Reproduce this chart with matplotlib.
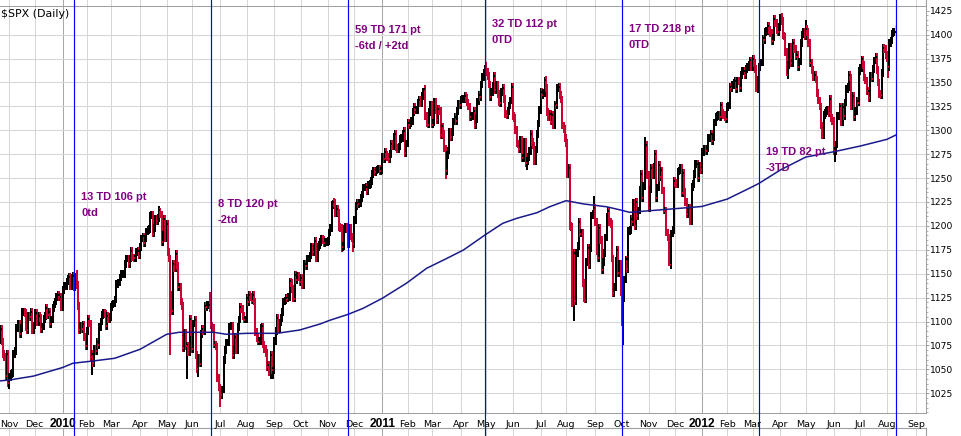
import matplotlib
matplotlib.use("Agg")
import matplotlib.pyplot as plt
import matplotlib.transforms as mtransforms
import numpy as np
import pandas as pd

# NYSE closed days inside the window
holidays = ["2009-11-26", "2009-12-25", "2010-01-01", "2010-01-18", "2010-02-15",
            "2010-04-02", "2010-05-31", "2010-07-05", "2010-09-06", "2010-11-25",
            "2010-12-24", "2011-01-17", "2011-02-21", "2011-04-22", "2011-05-30",
            "2011-07-04", "2011-09-05", "2011-11-24", "2011-12-26", "2012-01-02",
            "2012-01-16", "2012-02-20", "2012-04-06", "2012-05-28", "2012-07-04",
            "2012-09-03"]

# daily closes, one row per month (Oct 21 2009 .. Aug 10 2012)
closes_2009 = [
    1081, 1092, 1079, 1066, 1063, 1043, 1066, 1036,
    1042, 1045, 1046, 1066, 1069, 1093, 1093, 1098, 1087, 1093, 1110, 1110, 1109, 1094, 1091, 1106, 1105, 1110, 1091, 1096,
    1109, 1109, 1099, 1106, 1104, 1092, 1095, 1103, 1106, 1114, 1107, 1110, 1097, 1102, 1114, 1118, 1121, 1126, 1128, 1126, 1126, 1115,
]
closes_2010 = [
    1133, 1137, 1137, 1142, 1145, 1147, 1137, 1146, 1148, 1136, 1150, 1138, 1116, 1091, 1096, 1092, 1097, 1084, 1074,
    1090, 1103, 1098, 1063, 1066, 1057, 1071, 1069, 1079, 1075, 1094, 1100, 1107, 1109, 1108, 1095, 1106, 1103, 1105,
    1115, 1118, 1119, 1123, 1139, 1139, 1141, 1146, 1150, 1150, 1150, 1160, 1166, 1166, 1160, 1166, 1174, 1167, 1166, 1166, 1173, 1174, 1169,
    1178, 1187, 1189, 1182, 1187, 1194, 1196, 1197, 1211, 1212, 1192, 1198, 1207, 1205, 1208, 1217, 1212, 1183, 1191, 1207, 1187,
    1202, 1173, 1166, 1128, 1111, 1160, 1156, 1171, 1158, 1136, 1136, 1121, 1116, 1072, 1088, 1074, 1075, 1068, 1103, 1089,
    1071, 1098, 1102, 1065, 1050, 1062, 1056, 1087, 1092, 1090, 1116, 1115, 1117, 1117, 1114, 1096, 1093, 1076, 1076, 1074, 1041, 1031,
    1027, 1023, 1029, 1060, 1070, 1078, 1078, 1095, 1095, 1096, 1065, 1071, 1084, 1070, 1094, 1102, 1115, 1113, 1106, 1102, 1102,
    1125, 1120, 1128, 1126, 1122, 1128, 1121, 1089, 1083, 1079, 1080, 1093, 1095, 1076, 1071, 1067, 1052, 1055, 1047, 1065, 1049, 1049,
    1080, 1090, 1104, 1092, 1099, 1104, 1110, 1121, 1122, 1125, 1124, 1126, 1142, 1140, 1134, 1124, 1149, 1143, 1148, 1146, 1141,
    1146, 1138, 1160, 1160, 1158, 1166, 1166, 1169, 1178, 1173, 1176, 1184, 1166, 1178, 1180, 1183, 1186, 1185, 1182, 1183, 1183,
    1184, 1193, 1198, 1222, 1225, 1224, 1213, 1218, 1214, 1199, 1198, 1178, 1179, 1197, 1199, 1197, 1181, 1198, 1189, 1187, 1181,
    1206, 1221, 1224, 1223, 1224, 1229, 1233, 1240, 1240, 1241, 1236, 1243, 1244, 1247, 1254, 1258, 1256, 1258, 1259, 1260, 1257, 1258,
]
closes_2011 = [
    1272, 1270, 1277, 1274, 1272, 1270, 1275, 1286, 1283, 1293, 1296, 1282, 1280, 1283, 1291, 1292, 1296, 1299, 1276, 1286,
    1308, 1305, 1307, 1310, 1319, 1324, 1321, 1321, 1329, 1332, 1328, 1336, 1340, 1343, 1315, 1307, 1306, 1319, 1327,
    1306, 1308, 1330, 1321, 1311, 1322, 1320, 1295, 1304, 1296, 1281, 1257, 1274, 1279, 1298, 1293, 1298, 1309, 1314, 1310, 1320, 1328, 1326,
    1332, 1333, 1333, 1336, 1334, 1329, 1325, 1314, 1315, 1315, 1320, 1305, 1312, 1330, 1337, 1335, 1348, 1356, 1360, 1364,
    1361, 1357, 1348, 1335, 1340, 1346, 1357, 1342, 1348, 1338, 1329, 1328, 1340, 1344, 1333, 1317, 1316, 1320, 1326, 1331, 1345,
    1315, 1313, 1300, 1286, 1285, 1280, 1290, 1271, 1271, 1288, 1266, 1268, 1272, 1278, 1296, 1288, 1284, 1268, 1280, 1296, 1307, 1321,
    1340, 1337, 1339, 1353, 1344, 1319, 1314, 1317, 1309, 1316, 1305, 1327, 1326, 1344, 1345, 1337, 1332, 1305, 1301, 1292,
    1287, 1254, 1261, 1200, 1199, 1119, 1172, 1121, 1172, 1179, 1204, 1192, 1193, 1140, 1124, 1123, 1162, 1177, 1159, 1177, 1211, 1213, 1219,
    1204, 1174, 1166, 1198, 1185, 1154, 1162, 1172, 1188, 1209, 1216, 1204, 1202, 1166, 1130, 1136, 1163, 1175, 1151, 1160, 1131,
    1099, 1124, 1144, 1165, 1155, 1195, 1196, 1207, 1204, 1224, 1200, 1225, 1210, 1216, 1238, 1254, 1229, 1242, 1285, 1285, 1253,
    1219, 1238, 1261, 1253, 1262, 1275, 1229, 1240, 1264, 1251, 1258, 1237, 1216, 1216, 1193, 1188, 1162, 1159, 1192, 1196, 1247,
    1245, 1244, 1257, 1258, 1261, 1234, 1255, 1236, 1225, 1212, 1216, 1219, 1205, 1241, 1244, 1254, 1265, 1265, 1250, 1263, 1258,
]
closes_2012 = [
    1277, 1277, 1281, 1278, 1281, 1292, 1292, 1296, 1289, 1293, 1308, 1314, 1315, 1316, 1314, 1326, 1318, 1316, 1314, 1312,
    1324, 1326, 1345, 1344, 1347, 1350, 1352, 1343, 1352, 1351, 1344, 1358, 1362, 1362, 1358, 1364, 1366, 1368, 1373, 1366,
    1375, 1370, 1364, 1343, 1353, 1366, 1371, 1371, 1396, 1394, 1403, 1404, 1409, 1405, 1402, 1393, 1397, 1416, 1412, 1405, 1403, 1408,
    1419, 1414, 1399, 1398, 1382, 1358, 1368, 1387, 1370, 1370, 1391, 1385, 1377, 1379, 1366, 1372, 1391, 1400, 1403, 1398,
    1406, 1403, 1391, 1370, 1370, 1363, 1355, 1358, 1353, 1339, 1331, 1325, 1305, 1295, 1316, 1318, 1320, 1321, 1318, 1333, 1313, 1310,
    1278, 1278, 1285, 1315, 1315, 1325, 1308, 1324, 1315, 1329, 1343, 1345, 1358, 1355, 1325, 1336, 1314, 1320, 1331, 1329, 1362,
    1365, 1374, 1368, 1355, 1352, 1341, 1341, 1334, 1357, 1354, 1364, 1373, 1377, 1363, 1350, 1338, 1337, 1360, 1386, 1385, 1379,
    1375, 1366, 1391, 1394, 1401, 1403, 1403, 1406,
]

# intraday extremes that stick out of the bars
wick_lows = {"2009-11-02": 1029, "2010-02-05": 1044, "2010-05-06": 1065, "2010-05-25": 1040,
             "2010-06-08": 1042, "2010-07-01": 1011, "2010-08-27": 1040, "2010-08-31": 1040,
             "2010-11-16": 1173, "2010-11-30": 1173, "2011-03-16": 1249, "2011-06-16": 1258,
             "2011-08-09": 1101, "2011-10-04": 1075, "2011-11-25": 1158, "2012-03-06": 1340,
             "2012-04-10": 1357, "2012-06-04": 1267, "2012-08-02": 1355}
wick_highs = {"2010-01-19": 1151, "2010-04-26": 1219, "2010-06-21": 1131, "2010-11-05": 1227,
              "2011-02-18": 1344, "2011-05-02": 1371, "2011-07-07": 1356, "2011-08-31": 1231,
              "2011-10-27": 1293, "2012-04-02": 1422, "2012-05-01": 1415}

# moving average
ma_dates = ["2009-10-21", "2009-11-02", "2009-11-30", "2010-01-04", "2010-01-14", "2010-02-08",
            "2010-03-04", "2010-04-01", "2010-05-03", "2010-05-17", "2010-06-24", "2010-07-09",
            "2010-08-02", "2010-09-03", "2010-09-30", "2010-10-22", "2010-11-03", "2010-11-23",
            "2010-12-10", "2011-01-03", "2011-01-31", "2011-02-23", "2011-03-17", "2011-04-05",
            "2011-04-29", "2011-05-19", "2011-06-06", "2011-06-28", "2011-07-13", "2011-08-01",
            "2011-08-19", "2011-09-15", "2011-09-30", "2011-10-11", "2011-11-02", "2011-12-01",
            "2012-01-03", "2012-02-01", "2012-03-01", "2012-03-08", "2012-04-02", "2012-05-01",
            "2012-06-01", "2012-07-02", "2012-08-01", "2012-08-10"]
ma_values = [1037.9, 1038.9, 1043, 1052, 1056.4, 1058.8,
             1061.6, 1071, 1086.7, 1088.8, 1088.8, 1086.7,
             1087.7, 1087.7, 1091.2, 1097.5, 1101.5, 1107.5,
             1113.9, 1124.3, 1140, 1155.7, 1166.1, 1174.8,
             1190.5, 1202.7, 1207.9, 1213.8, 1220, 1226.4,
             1222.9, 1220, 1216.6, 1214.2, 1215.9, 1218,
             1220.3, 1228, 1241, 1244.4, 1258.5, 1272,
             1277.5, 1283.5, 1290.5, 1295]

# cycle lines and their notes
cycle_dates = ["2010-01-15", "2010-06-22", "2010-11-23", "2011-04-29", "2011-10-03", "2012-03-08", "2012-08-10"]
notes = [("13 TD 106 pt", "0td"), ("8 TD 120 pt", "-2td"), ("59 TD 171 pt", "-6td / +2td"),
         ("32 TD 112 pt", "0TD"), ("17 TD 218 pt", "0TD"), ("19 TD 82 pt", "-3TD")]
note_levels = [1227, 1220, 1401.5, 1408.3, 1402.4, 1274]

yticks = list(range(1025, 1426, 25))

# ---------------------------------------------------------------
cal = pd.bdate_range("2009-10-21", "2012-09-28", freq="C", holidays=holidays)
closes = np.array(closes_2009 + closes_2010 + closes_2011 + closes_2012, float)
n = min(len(closes), len(cal))
closes = closes[:n]
days = cal[:n]
day_str = list(days.strftime("%Y-%m-%d"))
idx = np.arange(n)

opens = np.r_[closes[0], closes[:-1]]
pad = 4
highs = np.maximum(opens, closes) + pad
lows = np.minimum(opens, closes) - pad
for d, v in wick_lows.items():
    if d in day_str:
        lows[day_str.index(d)] = v
for d, v in wick_highs.items():
    if d in day_str:
        highs[day_str.index(d)] = v
cols = np.where(closes < opens, "#cc0033", "#000000").astype(object)
cols[-1] = "#ffe400"   # latest bar

def pos(d):
    return cal.searchsorted(pd.Timestamp(d))

# month starts
mstarts, mlabels = [], []
prev = None
for i, d in enumerate(cal):
    key = (d.year, d.month)
    if key != prev:
        prev = key
        if d.day <= 7:
            mstarts.append(i)
            mlabels.append(str(d.year) if d.month == 1 else d.strftime("%b"))

W, H = 962, 436
fig = plt.figure(figsize=(W / 100, H / 100), dpi=100)
xl = (0.552, 730.8)
axw = 926 / W
grid_light = "#d6d6d6"
grid_dark = "#a8a8a8"
frame = "#a0a0a0"

def month_grid(a):
    for m, lab in zip(mstarts, mlabels):
        a.axvline(m, color=grid_dark if lab.isdigit() else grid_light, lw=0.75, zorder=0)

# thin strips above and below the price panel
top = fig.add_axes([0, 430 / H, axw, 6 / H])
bot = fig.add_axes([0, 0, axw, 8 / H])
for a in (top, bot):
    a.set_xlim(*xl)
    a.set_ylim(0, 1)
    month_grid(a)
    a.set_xticks([])
    a.set_yticks([])
    for s in a.spines.values():
        s.set_visible(False)
    a.spines["right"].set_visible(True)
    a.spines["right"].set_color(frame)
bot.spines["top"].set_visible(True)
bot.spines["top"].set_color(frame)

ax = fig.add_axes([0, 23 / H, axw, 407 / H])
ax.set_xlim(*xl)
ax.set_ylim(1004.4, 1429.9)
month_grid(ax)
for p in yticks[:-1]:
    ax.axhline(p, color=grid_light, lw=0.75, zorder=0)

# OHLC bars: range line plus open tick (left) and close tick (right)
ax.vlines(idx, lows, highs, colors=cols, lw=1.1, antialiased=False, zorder=2)
ax.hlines(opens, idx - 0.8, idx, colors=cols, lw=1.1, antialiased=False, zorder=2)
ax.hlines(closes, idx, idx + 0.8, colors=cols, lw=1.1, antialiased=False, zorder=2)

ax.plot([pos(d) for d in ma_dates], ma_values, color="#1a1a8a", lw=1.1, zorder=3)

for d in cycle_dates:
    ax.axvline(pos(d), ymin=-23 / 407, ymax=413 / 407, color="#0000ff", lw=0.85,
               clip_on=False, zorder=5)

for d, (l1, l2), lev in zip(cycle_dates, notes, note_levels):
    for k, t in enumerate((l1, l2)):
        ax.annotate(t, xy=(pos(d), lev - k * 16.7), xytext=(5, 0), textcoords="offset points",
                    ha="left", va="baseline", color="#800080", fontsize=8, fontweight="bold",
                    family=["Liberation Sans", "DejaVu Sans"], zorder=6)

# axes styling
ax.yaxis.tick_right()
ax.set_yticks(yticks)
ax.set_yticks(range(1005, 1430, 5), minor=True)
ax.tick_params(axis="y", which="major", length=2, width=0.7, color=frame, pad=1.2,
               labelsize=6.6, labelcolor="#000000")
ax.tick_params(axis="y", which="minor", length=1.5, width=0.6, color=frame)
ax.set_xticks([])
ax.spines["left"].set_visible(False)
for s in ("top", "right", "bottom"):
    ax.spines[s].set_color(frame)
    ax.spines[s].set_linewidth(0.75)

lab_tf = mtransforms.blended_transform_factory(ax.transData, ax.transAxes)
for m, lab in zip(mstarts, mlabels):
    if lab.isdigit():
        ax.text(m, -13.7 / 407, lab, transform=lab_tf, ha="center", va="baseline",
                fontsize=8.6, fontweight="bold",
                family=["Liberation Sans Narrow", "Liberation Sans", "DejaVu Sans"])
    else:
        ax.text(m, -13.7 / 407, lab, transform=lab_tf, ha="center", va="baseline",
                fontsize=6.8, family="DejaVu Sans")

fig.text(1 / W, (H - 17.3) / H, "$SPX (Daily)", fontsize=7.9, family="DejaVu Sans",
         ha="left", va="baseline")

fig.savefig("out.png", dpi=100)
